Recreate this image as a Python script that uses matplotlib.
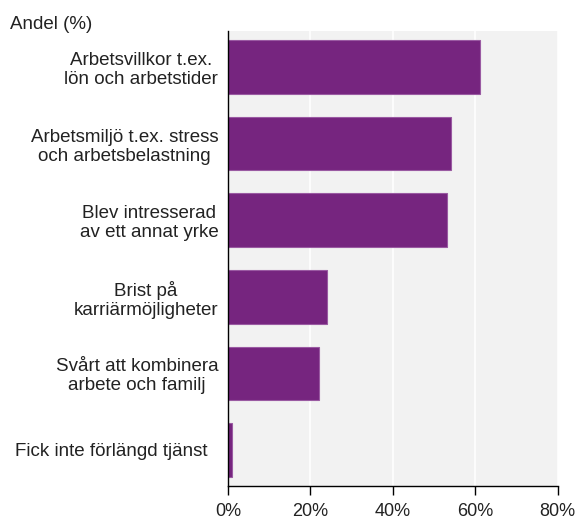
import matplotlib.pyplot as plt

plt.rcParams["font.family"] = ["Liberation Sans", "DejaVu Sans"]

labels = [
    "Arbetsvillkor t.ex.\nlön och arbetstider",
    "Arbetsmiljö t.ex. stress\noch arbetsbelastning",
    "Blev intresserad\nav ett annat yrke",
    "Brist på\nkarriärmöjligheter",
    "Svårt att kombinera\narbete och familj",
    "Fick inte förlängd tjänst  ",
]
andel = [61.3, 54.2, 53.2, 24.0, 22.1, 1.0]
xticks = [0, 20, 40, 60, 80]

fig = plt.figure(figsize=(5.79, 5.21), dpi=100)
ax = fig.add_axes([0.3938, 0.0672, 0.5691, 0.8733])
ax.set_facecolor("#f2f2f2")

pos = range(len(labels))
ax.barh(pos, andel, height=0.7, color="#76257f", edgecolor="#9a5aa2", linewidth=0.8, zorder=3)

ax.set_xlim(0, 80)
ax.set_ylim(len(labels) - 0.53, -0.47)
ax.set_xticks(xticks)
ax.set_xticklabels([f"{t}%" for t in xticks], fontsize=13, color="#222222")
ax.set_yticks(list(pos))
ax.set_yticklabels(labels, fontsize=13.5, color="#222222",
                   multialignment="center", linespacing=1.15)
ax.tick_params(axis="y", length=0, pad=7)
ax.tick_params(axis="x", length=6.5, width=1, color="black", pad=6)

ax.grid(axis="x", color="white", linewidth=1.2, zorder=1)
for s in ["top", "right"]:
    ax.spines[s].set_visible(False)
for s in ["left", "bottom"]:
    ax.spines[s].set_color("black")
    ax.spines[s].set_linewidth(1)
    ax.spines[s].set_zorder(4)

fig.text(10 / 579, 1 - 24.5 / 521, "Andel (%)", fontsize=13.5, color="#222222",
         va="center", ha="left")

fig.savefig("out.png", dpi=100)
